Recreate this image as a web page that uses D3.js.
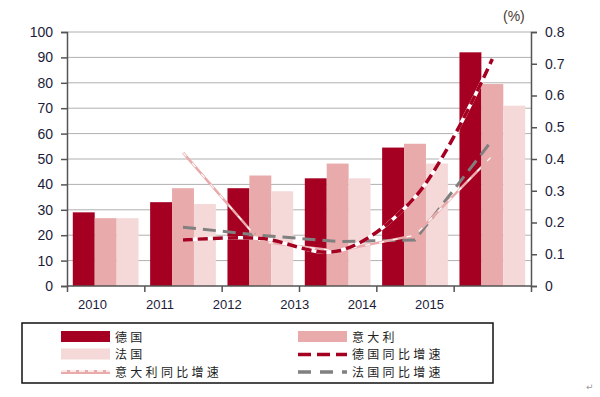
<!DOCTYPE html>
<html><head><meta charset="utf-8">
<script src="https://cdn.jsdelivr.net/npm/d3@7"></script>
<style>body{margin:0;background:#fff}svg{display:block}</style>
</head><body>
<svg id="c" width="600" height="397"></svg>
<script>
const years = ["2010","2011","2012","2013","2014","2015"];
const germany = [29, 33, 38.5, 42.4, 54.5, 92];
const italy = [26.7, 38.5, 43.5, 48.2, 56, 79.5];
const france = [26.7, 32.3, 37.3, 42.4, 48.2, 71];
const growthYears = ["2011","2012","2013","2014","2015"];
const germanyGrowth = [0.145, 0.15, 0.11, 0.28, 0.715];
const italyGrowth = [0.42, 0.14, 0.11, 0.16, 0.41];
const franceGrowth = [0.185, 0.16, 0.14, 0.145, 0.46];
const leftTicks = [0,10,20,30,40,50,60,70,80,90,100];
const rightTicks = [0,0.1,0.2,0.3,0.4,0.5,0.6,0.7,0.8];

const C = {de:"#A50021", it:"#E8AAAA", fr:"#F5D8D8", grey:"#808080"};
const svg = d3.select("#c");
const L = 67, R = 531, T = 32, B = 286;

const x = d3.scaleBand().domain(years).range([L, R]).paddingInner(0.15).paddingOuter(0.075);
const xs = d3.scaleBand().domain(["de","it","fr"]).range([0, x.bandwidth()]);
const yL = d3.scaleLinear().domain([0,100]).range([B, T]);
const yR = d3.scaleLinear().domain([0,0.8]).range([B, T]);
const xLabel = d3.scalePoint().domain(years).range([92, 429]);

// grid
svg.append("g").selectAll("line").data(leftTicks.slice(1)).join("line")
  .attr("x1", L).attr("x2", R).attr("y1", d=>yL(d)).attr("y2", d=>yL(d))
  .attr("stroke", "#b0b0b0").attr("stroke-width", 1);

// bars
const series = [["de", germany, C.de], ["it", italy, C.it], ["fr", france, C.fr]];
series.forEach(([k, vals, col]) => {
  svg.append("g").selectAll("rect").data(vals).join("rect")
    .attr("x", (d,i)=> x(years[i]) + xs(k))
    .attr("width", xs.bandwidth())
    .attr("y", d=>yL(d)).attr("height", d=>B - yL(d))
    .attr("fill", col);
});

// axes
const axL = svg.append("g").attr("transform", `translate(${L},0)`)
  .call(d3.axisLeft(yL).tickValues(leftTicks).tickSize(6).tickPadding(8));
const axR = svg.append("g").attr("transform", `translate(${R},0)`)
  .call(d3.axisRight(yR).tickValues(rightTicks).tickSize(6).tickPadding(8).tickFormat(d=> d===0?"0":d3.format(".1f")(d)));
const bounds = [L, ...years.slice(1).map(y=>x(y) - x.step()*x.paddingInner()/2), R];
const axB = svg.append("g").attr("transform", `translate(0,${B})`)
  .call(d3.axisBottom(d3.scaleLinear().domain([L,R]).range([L,R])).tickValues(bounds).tickSize(6).tickFormat(""));
[axL, axR, axB].forEach(g => {
  g.selectAll("path.domain").attr("stroke", "#555").attr("stroke-width", 1.5);
  g.selectAll(".tick line").attr("stroke", "#555").attr("stroke-width", 1.5);
  g.selectAll("text").attr("font-family", "Liberation Sans, Arial, sans-serif").attr("font-size", 14).attr("fill", "#1c1c3a");
});
axB.select("path.domain").attr("d", `M${L},0H${R}`);
svg.append("g").attr("transform", `translate(0,${B})`)
  .call(d3.axisBottom(xLabel).tickSize(0).tickPadding(14))
  .call(g => { g.select(".domain").remove();
    g.selectAll("text").attr("font-family","Liberation Sans, Arial, sans-serif").attr("font-size",13).attr("fill","#1c1c3a"); });

svg.append("text").attr("x", 503).attr("y", 21).text("(%)")
  .attr("font-family","Liberation Sans, Arial, sans-serif").attr("font-size",14).attr("fill","#4a3a30");

// lines
const gx = d => x(d) + x.bandwidth()/2;
const mk = (vals, curve) => d3.line().x((d,i)=>gx(growthYears[i])).y(d=>yR(d)).curve(curve)(vals);
// France growth (grey)
svg.append("path").attr("d", mk(franceGrowth, d3.curveLinear)).attr("fill","none")
  .attr("stroke", C.grey).attr("stroke-width", 3).attr("stroke-dasharray","13,7");
// Italy growth
svg.append("path").attr("d", mk(italyGrowth, d3.curveLinear)).attr("fill","none")
  .attr("stroke", C.it).attr("stroke-width", 2.5);
svg.append("path").attr("d", mk(italyGrowth, d3.curveLinear)).attr("fill","none")
  .attr("stroke", "#fff").attr("stroke-width", 1.2).attr("stroke-dasharray","5,9");
// Germany growth
svg.append("path").attr("d", mk(germanyGrowth, d3.curveCatmullRom)).attr("fill","none")
  .attr("stroke", "#fff").attr("stroke-width", 3.5);
svg.append("path").attr("d", mk(germanyGrowth, d3.curveCatmullRom)).attr("fill","none")
  .attr("stroke", C.de).attr("stroke-width", 3.5).attr("stroke-dasharray","10,5");

// legend
svg.append("rect").attr("x", 22).attr("y", 323).attr("width", 471).attr("height", 60)
  .attr("fill","#fff").attr("stroke","#111").attr("stroke-width",1.5);
const legend = [
  {t:"德国", type:"rect", col:C.de, x:61, y:337},
  {t:"意大利", type:"rect", col:C.it, x:298, y:337},
  {t:"法国", type:"rect", col:C.fr, x:61, y:354.5},
  {t:"德国同比增速", type:"de", x:298, y:354.5},
  {t:"意大利同比增速", type:"it", x:61, y:372},
  {t:"法国同比增速", type:"fr", x:298, y:372}
];
legend.forEach(e => {
  const g = svg.append("g");
  if (e.type === "rect") {
    g.append("rect").attr("x", e.x).attr("y", e.y-6).attr("width", 49).attr("height", 11).attr("fill", e.col);
  } else if (e.type === "de") {
    g.append("line").attr("x1", e.x).attr("x2", e.x+49).attr("y1", e.y).attr("y2", e.y)
      .attr("stroke", C.de).attr("stroke-width", 3.5).attr("stroke-dasharray","13,6");
  } else if (e.type === "it") {
    g.append("line").attr("x1", e.x).attr("x2", e.x+49).attr("y1", e.y).attr("y2", e.y)
      .attr("stroke", C.it).attr("stroke-width", 4);
    g.append("line").attr("x1", e.x).attr("x2", e.x+49).attr("y1", e.y-1).attr("y2", e.y-1)
      .attr("stroke", "#fff").attr("stroke-width", 1.5).attr("stroke-dasharray","6,3");
  } else {
    g.append("line").attr("x1", e.x).attr("x2", e.x+49).attr("y1", e.y).attr("y2", e.y)
      .attr("stroke", C.grey).attr("stroke-width", 3.5).attr("stroke-dasharray","13,9");
  }
  g.append("text").attr("x", e.x+54).attr("y", e.y+4.5).text(e.t)
    .attr("font-family","Noto Sans CJK SC, sans-serif").attr("font-size",12)
    .attr("letter-spacing", 3.3).attr("fill","#222");
});
svg.append("text").attr("x", 586).attr("y", 390).text("↵")
  .attr("font-family","DejaVu Sans, sans-serif").attr("font-size",9).attr("fill","#999");
</script>
</body></html>
